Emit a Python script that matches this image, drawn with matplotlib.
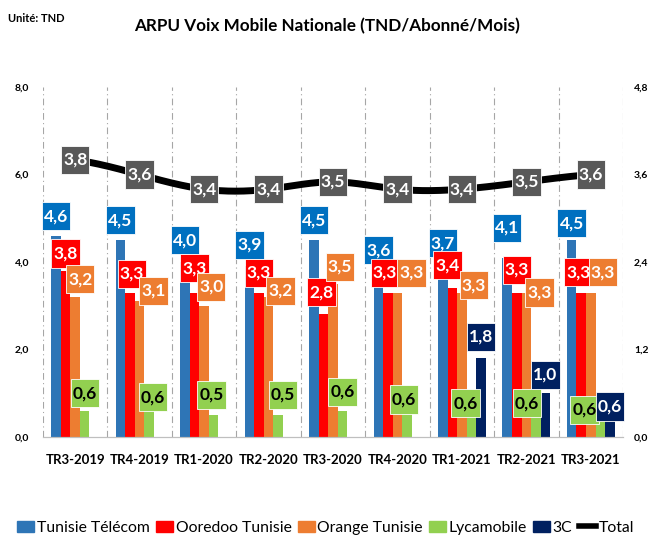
import numpy as np
import matplotlib.pyplot as plt
from matplotlib.lines import Line2D
from matplotlib.patches import Patch
from matplotlib.path import Path

plt.rcParams['font.family'] = ['Lato', 'DejaVu Sans']

quarters = ['TR3-2019', 'TR4-2019', 'TR1-2020', 'TR2-2020', 'TR3-2020',
            'TR4-2020', 'TR1-2021', 'TR2-2021', 'TR3-2021']
tunisie_telecom = [4.6, 4.5, 4.0, 3.9, 4.5, 3.6, 3.7, 4.1, 4.5]
ooredoo = [3.8, 3.3, 3.3, 3.3, 2.8, 3.3, 3.4, 3.3, 3.3]
orange = [3.2, 3.1, 3.0, 3.2, 3.5, 3.3, 3.3, 3.3, 3.3]
lycamobile = [0.6, 0.6, 0.5, 0.5, 0.6, 0.6, 0.6, 0.6, 0.6]
c3 = [0, 0, 0, 0, 0, 0, 1.8, 1.0, 0.6]
total = [3.8, 3.6, 3.4, 3.4, 3.5, 3.4, 3.4, 3.5, 3.6]

# label placement, as in the original (dx in pixels, dy in axis units)
lab_dy = [
    [0.45, 0.46, 0.50, 0.49, 0.46, 0.67, 0.73, 0.68, 0.39],
    [0.40, 0.43, 0.56, 0.45, 0.51, 0.45, 0.53, 0.52, 0.47],
    [0.41, 0.24, 0.43, 0.14, 0.39, 0.45, 0.17, 0.00, 0.47],
    [0.40, 0.31, 0.46, 0.46, 0.43, 0.25, 0.17, 0.17, 0.02],
    [0, 0, 0, 0, 0, 0, 0.49, 0.42, 0.09],
]
lab_dx = [
    [0] * 9,
    [0, 2, 0, 0, -2, -3, -5, 0, -3],
    [5, 14, 7, 12, 7, 14, 12, 13, 12],
    [0, 4, -2, 5, 0, -3, -6, -9, -16],
    [0] * 9,
]

series = [
    ('Tunisie Télécom', tunisie_telecom, '#2E75B6', '#0070C0', 'white'),
    ('Ooredoo Tunisie', ooredoo, '#FF0000', '#FF0000', 'white'),
    ('Orange Tunisie', orange, '#ED7D31', '#ED7D31', 'white'),
    ('Lycamobile', lycamobile, '#92D050', '#92D050', 'black'),
    ('3C', c3, '#002060', '#002060', 'white'),
]

def fmt(v):
    return f'{v:.1f}'.replace('.', ',')

def tall_box(x0, y0, width, height, mutation_size):
    # data label box: narrow sides, tall top/bottom like the Excel original
    px, py = 0.12 * mutation_size, 0.36 * mutation_size
    x0, y0 = x0 - px, y0 - py
    x1, y1 = x0 + width + 2 * px, y0 + height + 2 * py
    return Path([(x0, y0), (x1, y0), (x1, y1), (x0, y1), (x0, y0)], closed=True)

fig = plt.figure(figsize=(6.51, 5.38), dpi=100)
ax = fig.add_axes([0.066, 0.188, 0.891, 0.650])
ax2 = ax.twinx()

x = np.arange(len(quarters))
w = 0.148
px_unit = 1 / 64.4
lab_font = dict(fontsize=12.5, fontweight='bold')

for i, (name, vals, col, boxcol, txtcol) in enumerate(series):
    pos = x + (i - 2) * w
    ax.bar(pos, vals, w, color=col, zorder=2)
    for j, (xp, v) in enumerate(zip(pos, vals)):
        if v <= 0:
            continue
        ax.text(xp + lab_dx[i][j] * px_unit, v + lab_dy[i][j], fmt(v),
                ha='center', va='center', color=txtcol, zorder=5,
                bbox=dict(boxstyle=tall_box, fc=boxcol, ec='white', lw=0.6),
                **lab_font)

# smoothed total line
xs = np.linspace(0, len(quarters) - 1, 200)
try:
    from scipy.interpolate import make_interp_spline
    ys = make_interp_spline(x, total, k=3)(xs)
except Exception:
    ys = np.interp(xs, x, total)
ax2.plot(xs, ys, color='black', lw=5, zorder=3, solid_capstyle='round')
for xp, v in zip(x, total):
    ax2.text(xp, v, fmt(v), ha='center', va='center', color='white', zorder=6,
             bbox=dict(boxstyle=tall_box, fc='#595959', ec='white', lw=0.6),
             **lab_font)

ax.set_xlim(-0.5, len(quarters) - 0.5)
ax.set_ylim(0, 8)
ax2.set_ylim(0, 4.8)
ax.set_yticks([0, 2, 4, 6, 8])
ax.set_yticklabels([fmt(t) for t in [0, 2, 4, 6, 8]], fontsize=7.5, fontweight='bold')
ax2.set_yticks([0, 1.2, 2.4, 3.6, 4.8])
ax2.set_yticklabels([fmt(t) for t in [0, 1.2, 2.4, 3.6, 4.8]], fontsize=7.5, fontweight='bold')
ax.set_xticks(x)
ax.set_xticklabels(quarters, fontsize=9.5, fontweight='bold')
ax.tick_params(axis='x', length=0, pad=12)
ax.tick_params(axis='y', length=0, pad=10)
ax2.tick_params(axis='y', length=0, pad=8)

for a in (ax, ax2):
    for s in ['top', 'left', 'right']:
        a.spines[s].set_visible(False)
    a.spines['bottom'].set_color('#BFBFBF')
for b in np.arange(-0.5, len(quarters), 1.0):
    ax.axvline(b, color='#A6A6A6', lw=0.8, ls=(0, (6, 3, 1, 3)), zorder=1)

fig.text(0.012, 0.965, 'Unité: TND', fontsize=8, fontweight='bold', va='center')
fig.text(0.502, 0.952, 'ARPU Voix Mobile Nationale (TND/Abonné/Mois)', fontsize=12.3,
         fontweight='bold', ha='center', va='center')

handles = [Patch(color=s[2]) for s in series] + [Line2D([0], [0], color='black', lw=4)]
labels = [s[0] for s in series] + ['Total']
fig.legend(handles, labels, loc='center', bbox_to_anchor=(0.5, 0.019), ncol=6,
           frameon=False, fontsize=11.3, handlelength=1.1, handleheight=0.75,
           handletextpad=0.15, columnspacing=0.4, borderaxespad=0)

fig.savefig('out.png', dpi=100)
